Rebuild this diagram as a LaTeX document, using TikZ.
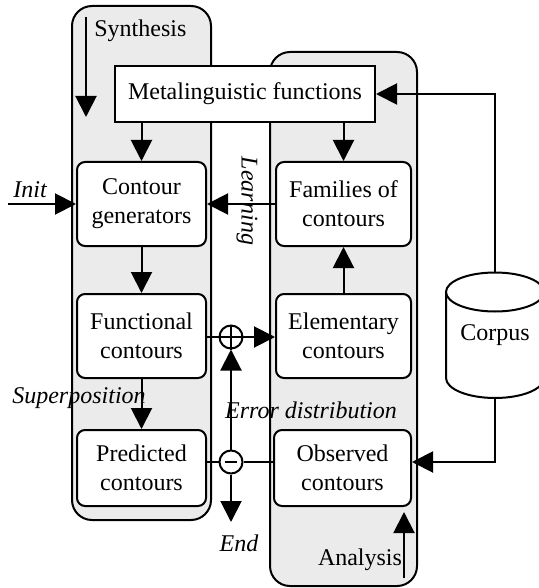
\documentclass[tikz,border=0pt]{standalone}
\usepackage{fontspec}
\setmainfont{Liberation Serif}
\usetikzlibrary{arrows.meta}
\definecolor{panelgray}{gray}{0.92}
\tikzstyle{panel} = [draw=black, fill=panelgray, line width=1pt, rounded corners=10pt]
\tikzstyle{stage} = [draw=black, fill=white, line width=1pt, rectangle,
    rounded corners=4pt, align=center, inner sep=2pt]
\tikzstyle{funcbox} = [draw=black, fill=white, line width=1pt, rectangle,
    minimum width=130pt, minimum height=28pt]
\tikzstyle{opcircle} = [draw=black, fill=white, line width=1pt, circle,
    minimum size=11.5pt, inner sep=0pt]
\tikzstyle{arr} = [line width=1pt, -{Triangle[length=10.5pt,width=10.5pt]}]
\tikzstyle{wire} = [line width=1pt]
\tikzstyle{tag} = [font=\fontsize{12}{14.5}\selectfont\itshape, inner sep=1pt]

\begin{document}
\begin{tikzpicture}[x=0.5pt, y=-0.5pt, font=\fontsize{12}{14.5}\selectfont]
                \useasboundingbox (0,0) rectangle (538,588);
                \draw[panel] (72,6) rectangle (211,520);
                \draw[panel] (270,52) rectangle (417,586);

                \node[funcbox] (meta) at (245,94) {Metalinguistic functions};
                \node[stage, minimum width=64.5pt, minimum height=42pt] (gen) at (141.5,204) {Contour\\generators};
                \node[stage, minimum width=67.5pt, minimum height=42pt] (fam) at (343.5,204) {Families of\\contours};
                \node[stage, minimum width=64.5pt, minimum height=42pt] (func) at (141.5,336) {Functional\\contours};
                \node[stage, minimum width=67.5pt, minimum height=42pt] (elem) at (343.5,336) {Elementary\\contours};
                \node[stage, minimum width=64.5pt, minimum height=38pt] (pred) at (141.5,468) {Predicted\\contours};
                \node[stage, minimum width=68.5pt, minimum height=38pt] (obs) at (342.5,468) {Observed\\contours};

                \draw[wire, fill=white] (446,292) -- (446,378)
                    arc[start angle=180, end angle=360, x radius=24.5pt, y radius=10pt] -- (544,292);
                \draw[wire, fill=white] (495,292) ellipse [x radius=24.5pt, y radius=9.75pt];
                \node[minimum width=49pt, minimum height=62.5pt, inner sep=0pt] (corpus) at (495,335.5) {Corpus};

                \draw[arr] (meta.south -| gen) -- (gen.north);
                \draw[arr] (meta.south -| fam) -- (fam.north);
                \draw[arr] (gen.south) -- (func.north);
                \draw[arr] (func.south) -- (pred.north);
                \draw[arr] (elem.north) -- (fam.south);
                \draw[arr] (fam.west) -- (gen.east);
                \draw[arr] (corpus.north) |- (meta.east);
                \draw[arr] (corpus.south) |- ([yshift=3pt]obs.east);

                \node[opcircle] (plus) at (231,337) {};
                \draw[wire] (plus.north) -- (plus.south) (plus.west) -- (plus.east);
                \node[opcircle] (minus) at (231,462) {};
                \draw[wire] ([xshift=-3pt]minus.center) -- ([xshift=3pt]minus.center);
                \draw[wire] (func.east |- plus) -- (plus.west);
                \draw[arr] (plus.east) -- (elem.west |- plus);
                \draw[wire] (obs.west |- minus) -- (minus.east);
                \draw[wire] (minus.west) -- (pred.east |- minus);
                \draw[arr] (minus.north) -- (plus.south);

                \coordinate (initpt) at (8,204);
                \coordinate (endpt) at (231,522);
                \coordinate (synA) at (86,17);
                \coordinate (synB) at (86,117);
                \coordinate (anaA) at (404,578);
                \coordinate (anaB) at (404,512);
                \draw[arr] (initpt) -- (gen.west);
                \draw[arr] (minus.south) -- (endpt);
                \draw[arr] (synA) -- (synB);
                \draw[arr] (anaA) -- (anaB);

                \node[tag] at (30,190) {Init};
                \node[tag, rotate=-90] at (247,201) {Learning};
                \node[tag] at (79,398) {Superposition};
                \node[tag] at (311,410) {Error distribution};
                \node[tag] at (239,543) {End};
                \node[anchor=west, inner sep=1pt] at (92,31) {Synthesis};
                \node[inner sep=1pt] at (360,560) {Analysis};
            \end{tikzpicture}
\end{document}
